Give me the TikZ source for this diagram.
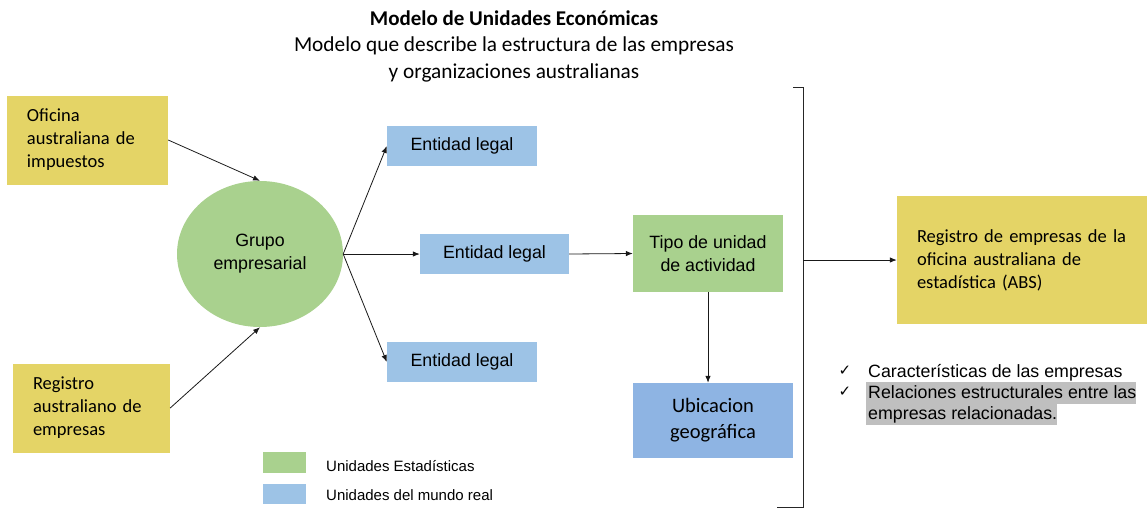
\documentclass[tikz,border=0pt]{standalone}
\usepackage{fontspec}
\setmainfont{Liberation Sans}
\newfontfamily\calibri{Carlito}
\newfontfamily\dejavu{DejaVu Sans}
\usetikzlibrary{arrows.meta,shapes.geometric}
\definecolor{ylw}{HTML}{E4D466}
\definecolor{grn}{HTML}{A9D18E}
\definecolor{lblue}{HTML}{9DC3E6}
\definecolor{dblue}{HTML}{8EB4E3}
\definecolor{hl}{HTML}{BFBFBF}
\begin{document}
\begin{tikzpicture}[x=1pt,y=-1pt,
  ybox/.style={fill=ylw, inner sep=0pt, align=left, font=\calibri\fontsize{18.5}{23}\selectfont},
  gbox/.style={fill=grn, inner sep=0pt, align=center, font=\fontsize{17.8}{23}\selectfont},
  bbox/.style={fill=lblue, inner sep=0pt, align=center, font=\fontsize{17.8}{23}\selectfont},
  arr/.style={-{Latex[length=7pt,width=5.5pt]}, line width=0.8pt, draw=black!90},
  legtxt/.style={anchor=west, inner sep=0pt, font=\fontsize{15}{18}\selectfont},
  chk/.style={inner sep=0pt, font=\dejavu\fontsize{15}{17}\selectfont},
  ltxt/.style={anchor=base west, inner sep=0pt, font=\fontsize{17.8}{21}\selectfont}
]
\useasboundingbox (0,0) rectangle (1147,509);

% title
\node[font=\calibri\bfseries\fontsize{21}{27}\selectfont, inner sep=0pt] (title) at (514,18) {Modelo de Unidades Económicas};
\node[font=\calibri\fontsize{21.3}{27}\selectfont, inner sep=0pt, align=center] (sub) at (514,59) {Modelo que describe la estructura de las empresas\\y organizaciones australianas};

% yellow source boxes
\node[ybox, minimum width=161pt, minimum height=89pt, text width=121pt] (ato) at (87.5,140) {Oficina\\australiana de\\impuestos};
\node[ybox, minimum width=157pt, minimum height=89pt, text width=117pt] (reg) at (91.5,408) {Registro\\australiano de\\empresas};

% group ellipse
\node[ellipse, fill=grn, minimum width=166pt, minimum height=146pt, inner sep=0pt, align=center, font=\fontsize{17.8}{23}\selectfont] (grp) at (260,254) {Grupo\\empresarial};

% legal entities
\node[bbox, minimum width=150pt, minimum height=40pt] (e1) at (462,146) {Entidad legal};
\node[bbox, minimum width=149pt, minimum height=40pt] (e2) at (494.5,254) {Entidad legal};
\node[bbox, minimum width=150pt, minimum height=40pt] (e3) at (462,362) {Entidad legal};

% activity unit and location
\node[gbox, minimum width=150pt, minimum height=77pt] (tipo) at (708,253.5) {Tipo de unidad\\de actividad};
\node[fill=dblue, inner sep=0pt, align=center, minimum width=160pt, minimum height=75pt, font=\calibri\fontsize{20.5}{26}\selectfont] (ubi) at (713,420.5) {Ubicacion\\geográfica};

% ABS register
\node[ybox, minimum width=250pt, minimum height=128pt, text width=210pt] (abs) at (1022,260) {Registro de empresas de la\\oficina australiana de\\estadística (ABS)};

% bracket
\draw[line width=0.9pt, draw=black!85] (793,87) -- (803,87) -- (803,507) -- (777,507);
\coordinate (br) at (803,260);

% connectors
\draw[arr] (ato.east) -- (grp.north);
\draw[arr] (reg.east) -- (grp.south);
\draw[arr] (grp.east) -- (e1.west);
\draw[arr] (grp.east) -- (e2.west);
\draw[arr] (grp.east) -- (e3.west);
\draw[arr] (e2.east) -- (tipo.west);
\draw[arr] (tipo.south) -- (tipo.south |- ubi.north);
\draw[arr] (br) -- (abs.west);

% legend
\node[fill=grn, minimum width=43pt, minimum height=21pt, inner sep=0pt] (lg) at (284.5,462.5) {};
\node[fill=lblue, minimum width=43pt, minimum height=20pt, inner sep=0pt] (lb) at (284.5,494) {};
\node[legtxt] (lgt) at (326,466) {Unidades Estadísticas};
\node[legtxt] (lbt) at (326,495) {Unidades del mundo real};

% checklist
\node[chk] (c1) at (845,371) {✓};
\node[chk] (c2) at (845,392) {✓};
\node[ltxt] (t1) at (868,377.5) {Características de las empresas};
\node[ltxt, fill=hl, text height=17pt, text depth=5pt] (t2) at (866,398.5) {\hspace{2pt}Relaciones estructurales entre las};
\node[ltxt, fill=hl, text height=16pt, text depth=5pt] (t3) at (866,419.5) {\hspace{2pt}empresas relacionadas.};
\end{tikzpicture}
\end{document}
